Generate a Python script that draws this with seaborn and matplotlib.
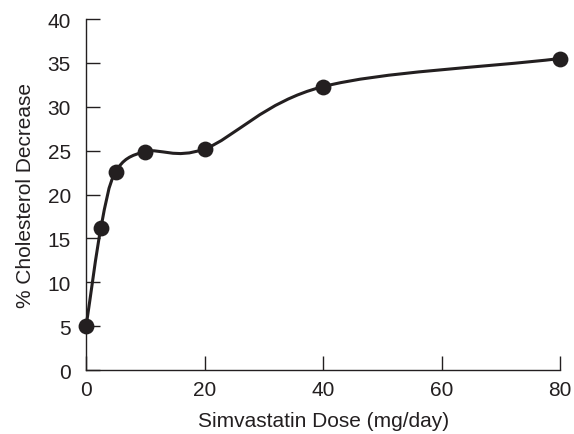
import numpy as np
import pandas as pd
import matplotlib
matplotlib.use("Agg")
import matplotlib.pyplot as plt
from matplotlib.path import Path
from matplotlib.patches import PathPatch
import seaborn as sns

# data
dose = [0, 2.5, 5, 10, 20, 40, 80]
decrease = [5.0, 16.2, 22.6, 24.9, 25.2, 32.3, 35.5]
x_ticks = [0, 20, 40, 60, 80]
y_ticks = [0, 5, 10, 15, 20, 25, 30, 35, 40]

INK = "#231f20"

sns.set_theme(style="ticks")
plt.rcParams["font.family"] = ["Liberation Sans", "DejaVu Sans"]

df = pd.DataFrame({"Dose": dose, "Decrease": decrease})

fig = plt.figure(figsize=(5.74, 4.35), dpi=100)
ax = fig.add_axes([0.150, 0.147, 0.826, 0.807])

# smooth curve through the points (Catmull-Rom as cubic Bezier, in screen-like scale)
sx, sy = 5.925, 8.775
P = np.column_stack([df["Dose"] * sx, df["Decrease"] * sy])
n = len(P)
T = np.zeros_like(P)
for i in range(n):
    a = P[max(i - 1, 0)]
    b = P[min(i + 1, n - 1)]
    T[i] = (b - a) / (2 if 0 < i < n - 1 else 1)
verts = [P[0]]
codes = [Path.MOVETO]
for i in range(n - 1):
    verts += [P[i] + T[i] / 3, P[i + 1] - T[i + 1] / 3, P[i + 1]]
    codes += [Path.CURVE4] * 3
verts = np.array(verts) / [sx, sy]
ax.add_patch(PathPatch(Path(verts, codes), facecolor="none", edgecolor=INK,
                       linewidth=2.2, capstyle="round", joinstyle="round", clip_on=False))

sns.scatterplot(data=df, x="Dose", y="Decrease", ax=ax, color=INK, s=130,
                edgecolor=INK, linewidth=0, clip_on=False, zorder=5)

ax.set_xlim(0, 80)
ax.set_ylim(0, 40)
ax.set_xticks(x_ticks)
ax.set_yticks(y_ticks)
ax.tick_params(direction="in", length=10, width=1.0, color=INK, labelcolor=INK,
               labelsize=15)
ax.tick_params(axis="y", pad=11)
ax.tick_params(axis="x", pad=7)
sns.despine(ax=ax)
for s in ["left", "bottom"]:
    ax.spines[s].set_linewidth(1.0)
    ax.spines[s].set_color(INK)

ax.set_xlabel("Simvastatin Dose (mg/day)", fontsize=15, color=INK, labelpad=9)
ax.set_ylabel("% Cholesterol Decrease", fontsize=15, color=INK, labelpad=9)

fig.savefig("out.png", dpi=100)
